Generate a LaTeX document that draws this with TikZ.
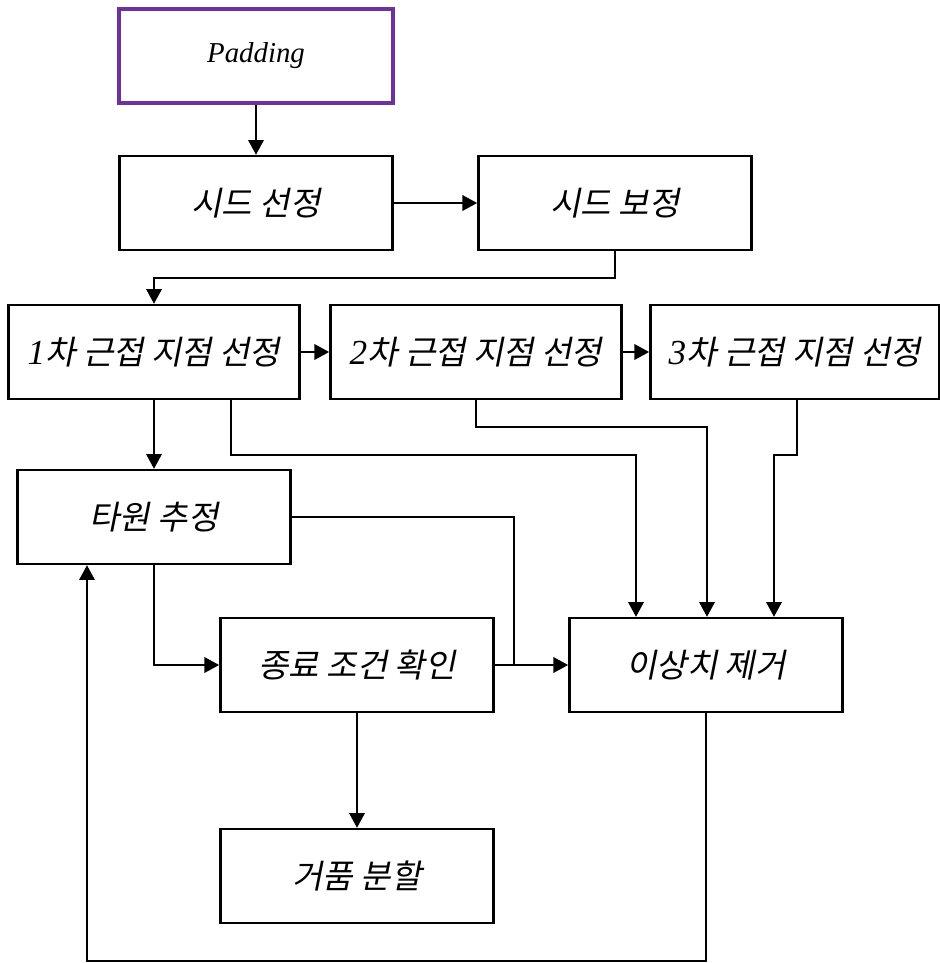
\documentclass[tikz,border=0pt]{standalone}
\usepackage{fontspec}
\setmainfont{Liberation Serif}
\newfontfamily\kofont{Noto Sans CJK KR}[FakeSlant=0.2]
\usepackage{xcolor}
\usetikzlibrary{arrows.meta,calc}
\definecolor{padpurple}{RGB}{112,48,160}
\newcommand{\ko}[1]{{\kofont\fontsize{23.5}{26}\selectfont #1}}
\newcommand{\stepno}[1]{{\fontsize{25}{26}\selectfont #1}}

\begin{document}
\begin{tikzpicture}[x=0.025cm, y=-0.025cm,
    every node/.style={font=\fontsize{20.5}{24}\selectfont\itshape},
    stage/.style={draw, line width=1.7pt, minimum width=6.83cm, minimum height=2.35cm},
    wide/.style={minimum width=7.28cm},
    link/.style={line width=1.4pt},
    arr/.style={link, -{Triangle[length=10.5pt, width=11pt]}}]
    \useasboundingbox (0,0) rectangle (940,963);

    % seed stage
    \node[stage, draw=padpurple, line width=3pt] (pad) at (256,56) {Padding};
    \node[stage] (seed) at (256,203) {\ko{시드 선정}};
    \node[stage] (fix) at (615,203) {\ko{시드 보정}};

    % nearest point stages
    \node[stage, wide] (near1) at (154,352) {\stepno{1}\ko{차 근접 지점 선정}};
    \node[stage, wide] (near2) at (476,352) {\stepno{2}\ko{차 근접 지점 선정}};
    \node[stage, minimum width=7.23cm] (near3) at (795,352) {\stepno{3}\ko{차 근접 지점 선정}};

    % fitting loop
    \node[stage] (fit) at (154,517) {\ko{타원 추정}};
    \node[stage] (stop) at (357,665) {\ko{종료 조건 확인}};
    \node[stage] (outlier) at (706,665) {\ko{이상치 제거}};
    \node[stage] (split) at (357,876) {\ko{거품 분할}};

    \draw[arr] (pad) -- (seed);
    \draw[arr] (seed) -- (fix);
    \draw[arr] (fix.south) -- ++(0,27) -| (near1.north);
    \draw[arr] (near1) -- (near2);
    \draw[arr] (near2) -- (near3);
    \draw[arr] (near1.south) -- (fit.north);
    \draw[arr] ($(near1.south)+(77,0)$) -- ++(0,55) -| ($(outlier.north)+(-70,0)$);
    \draw[arr] (near2.south) -- ++(0,27) -| ($(outlier.north)+(1,0)$);
    \draw[arr] ($(near3.south)+(2,0)$) -- ++(0,55) -| ($(outlier.north)+(68,0)$);
    \draw[link] (fit.east) -| ($(stop.east)+(19,0)$);
    \draw[arr] (fit.south) |- (stop.west);
    \draw[arr] (stop) -- (outlier);
    \draw[arr] (stop) -- (split);
    \draw[arr] (outlier.south) -- ++(0,248) -| ($(fit.south)+(-67,0)$);
\end{tikzpicture}
\end{document}
